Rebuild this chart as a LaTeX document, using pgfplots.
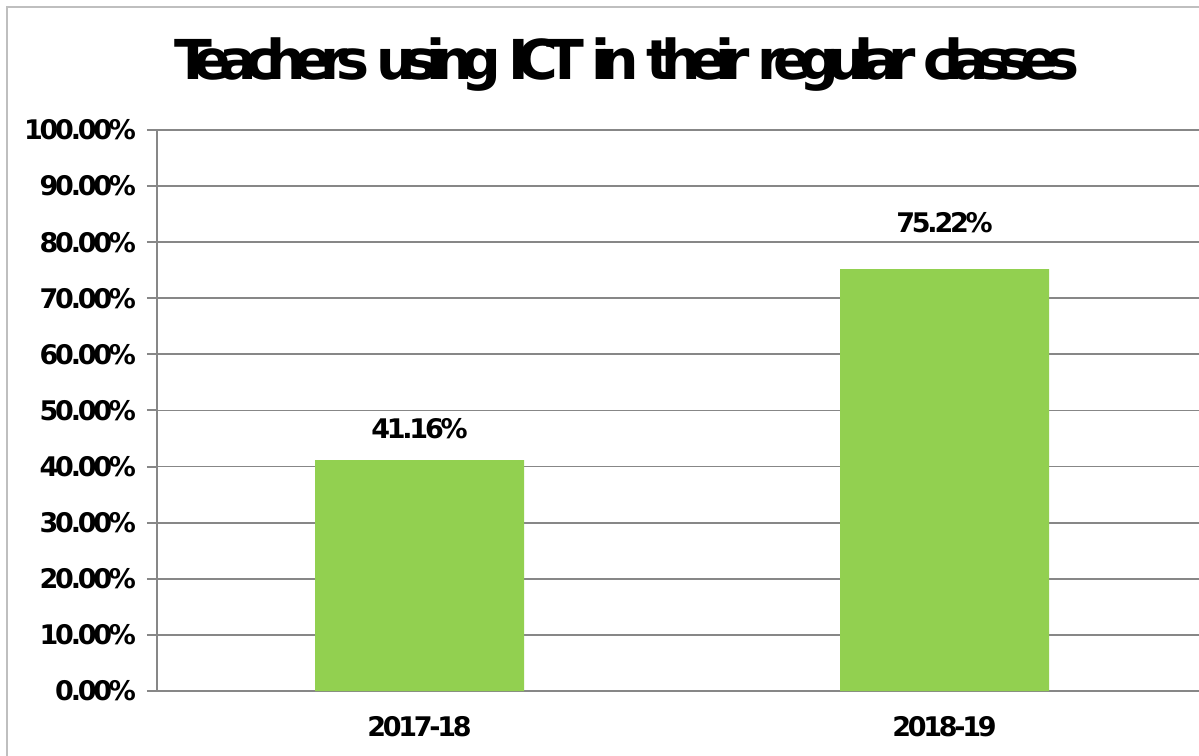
\documentclass[border=0pt]{standalone}
\usepackage{pgfplots}
\pgfplotsset{compat=1.18}
\usepackage{fontspec}
\setmainfont{DejaVu Sans}[LetterSpace=-12]
\newfontfamily\titlefont{DejaVu Sans}[LetterSpace=-21]
\definecolor{bargreen}{HTML}{92D050}
\definecolor{gridgray}{HTML}{878787}
\definecolor{framegray}{HTML}{BFBFBF}
\newcommand{\lbl}{\fontsize{13.5}{16}\selectfont\bfseries}
\pgfplotstableread{
x  y      dy
0  41.16  10.5
1  75.22  18
}\bars
\begin{document}
\begin{tikzpicture}
  % picture = 1199x755 px, 1 px = 0.5pt, axis origin at px (157,691)
  \path[use as bounding box, clip] (-78.5pt,-32pt) rectangle (521pt,345.5pt);
  \draw[framegray, line width=0.6pt] (-75pt,-60pt) -- (-75pt,342pt) -- (560pt,342pt);
  \begin{axis}[
    at={(0,0)}, anchor=south west,
    scale only axis,
    width=525pt, height=280.5pt,
    xmin=-0.5, xmax=1.5,
    ymin=0, ymax=100,
    ytick distance=10,
    xtick={0,1},
    xticklabels={2017-18,2018-19},
    minor xtick={-0.5,0.5,1.5},
    axis x line*=bottom,
    axis y line*=left,
    axis line style={gridgray, line width=1pt, -},
    tick style={gridgray, line width=1pt},
    tick align=outside,
    major tick length=5pt,
    xtick style={draw=none},
    minor x tick style={gridgray, line width=1pt},
    minor tick length=4.5pt,
    ymajorgrids,
    grid style={gridgray, line width=0.9pt},
    ticklabel style={font=\lbl},
    yticklabel={\pgfmathprintnumber[fixed,fixed zerofill,precision=2,assume math mode=true]{\tick}\%},
    yticklabel style={anchor=east, xshift=-2pt},
    xticklabel style={anchor=north, yshift=-4pt},
    ybar,
    bar width=104.5pt,
    visualization depends on={\thisrow{dy} \as \dy},
    nodes near coords={\pgfmathprintnumber[fixed,fixed zerofill,precision=2,assume math mode=true]{\pgfplotspointmeta}\%},
    every node near coord/.append style={font=\lbl, anchor=south, inner sep=0pt, yshift=\dy pt},
    point meta=y,
    clip=false,
  ]
    \addplot[fill=bargreen, draw=none] table[x=x, y=y] {\bars};
  \end{axis}
  \node[anchor=base, inner sep=0pt] at (235pt,305.5pt)
    {\resizebox{452pt}{\height}{\titlefont\fontsize{27.5}{32}\selectfont\bfseries Teachers using ICT in their regular classes}};
\end{tikzpicture}
\end{document}
